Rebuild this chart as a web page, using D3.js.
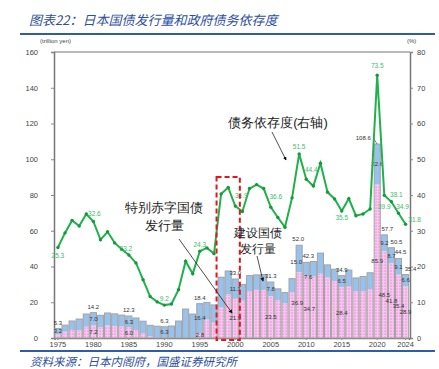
<!DOCTYPE html>
<html>
<head>
<meta charset="utf-8">
<script src="https://cdn.jsdelivr.net/npm/d3@7"></script>
<style>
body{margin:0;background:#fff;}
svg text{font-family:"Liberation Sans",Arial,sans-serif;}
.cn{font-family:"Noto Sans CJK SC",sans-serif;}
</style>
</head>
<body>
<div id="chart"></div>
<script>
var W = 439, H = 369
var margin = {top:52, right:29, bottom:31, left:54}

// data, trillion yen / %
var years = d3.range(1975, 2025)
var construction = [3.2,3.7,5.0,6.3,7.1,7.0,6.8,7.0,6.8,6.4,
                    6.3,6.7,6.9,6.2,6.4,6.3,6.7,9.5,16.2,13.4,
                    16.4,9.4,10.0,17.0,13.2,11.1,9.1,8.7,8.4,8.7,
                    7.8,6.4,6.0,7.5,15.0,7.6,8.4,11.5,7.1,6.6,
                    6.5,8.9,7.4,8.2,9.1,22.6,9.2,8.7,9.1,6.6]
var deficit = [2.1,3.5,4.5,4.3,6.3,7.2,5.9,7.0,6.7,6.4,
               6.0,4.5,2.5,0.9,0.2,0,0,0,0,0,
               2.8,10.5,8.5,17.0,24.3,21.9,20.9,26.2,26.9,26.8,
               23.5,21.1,19.4,25.7,36.9,34.7,34.4,36.0,33.8,31.9,
               28.4,29.1,26.2,26.2,27.4,85.9,48.5,41.8,35.4,28.9]
var dependency = [25.3,29.4,32.9,31.3,34.7,32.6,27.5,29.7,26.6,24.8,
                  23.2,21.0,16.3,11.6,10.1,9.2,9.5,13.5,21.5,18.0,
                  24.3,25.2,23.6,40.3,42.1,36.9,35.4,41.8,42.9,41.8,
                  36.6,33.7,31.0,39.2,51.5,44.4,42.5,48.9,40.8,38.9,
                  35.5,39.0,34.2,34.7,36.1,73.5,39.9,38.1,34.9,31.8]
var yearTicks = [1975,1980,1985,1990,1995,2000,2005,2010,2015,2020,2024]
var leftTicks = [0,20,40,60,80,100,120,140,160]
var rightTicks = [0,10,20,30,40,50,60,70,80]
var barLabelYears = [1975,1980,1985,1990,1995,2000,2005,2009,2010,2015,2020,2021,2022,2023,2024]
var totalLabels = [5.3,14.2,12.3,6.3,18.4,33.0,31.3,52.0,42.3,34.9,108.6,57.7,50.5,44.5,35.4]
var lineLabelYears = [1975,1980,1985,1990,1995,2000,2005,2009,2010,2015,2020,2021,2022,2023,2024]

var rows = years.map(function(y, i){
    return {year:y, c:construction[i], d:deficit[i], t:construction[i] + deficit[i], r:dependency[i]}
})
var byYear = {}
rows.forEach(function(r){ byYear[r.year] = r })

var svg = d3.select("#chart").append("svg")
    .attr("width", W).attr("height", H)

// pink dotted pattern
var defs = svg.append("defs")
var pat = defs.append("pattern").attr("id", "dots")
    .attr("patternUnits", "userSpaceOnUse").attr("width", 3).attr("height", 3)
pat.append("rect").attr("width", 3).attr("height", 3).attr("fill", "#f8c6ef")
pat.append("circle").attr("cx", 1).attr("cy", 1).attr("r", 0.6).attr("fill", "#e255c8")
defs.append("marker").attr("id", "arr")
    .attr("viewBox", "0 0 6 6").attr("refX", 5).attr("refY", 3)
    .attr("markerWidth", 5).attr("markerHeight", 5).attr("orient", "auto")
    .append("path").attr("d", "M0,0L6,3L0,6z").attr("fill", "#111")

// title + rules
svg.append("text").attr("class", "cn")
    .attr("x", 29).attr("y", 25)
    .style("font-size", "13px").style("font-style", "italic")
    .attr("fill", "#2d4f9e")
    .text("图表22：日本国债发行量和政府债务依存度")
svg.append("line").attr("x1", 20).attr("x2", 435).attr("y1", 34).attr("y2", 34)
    .attr("stroke", "#2e5ca8").attr("stroke-width", 2)
svg.append("line").attr("x1", 20).attr("x2", 435).attr("y1", 351).attr("y2", 351)
    .attr("stroke", "#2e5ca8").attr("stroke-width", 2)
svg.append("text").attr("class", "cn")
    .attr("x", 30).attr("y", 366)
    .style("font-size", "11.5px").style("font-style", "italic")
    .attr("fill", "#2d4f9e")
    .text("资料来源：日本内阁府，国盛证券研究所")

// scales
var x = d3.scaleBand().domain(years)
    .range([margin.left + 0.5, W - margin.right - 1]).paddingInner(0.14).paddingOuter(0.05)
var yL = d3.scaleLinear().domain([0,160]).range([H - margin.bottom, margin.top])
var yR = d3.scaleLinear().domain([0,80]).range([H - margin.bottom, margin.top])
var cx = function(yr){ return x(yr) + x.bandwidth()/2 }

// axes
var left = svg.append("g").attr("transform", "translate(" + margin.left + ",0)")
    .call(d3.axisLeft(yL).tickValues(leftTicks).tickSize(3).tickPadding(13))
var right = svg.append("g").attr("transform", "translate(" + (W - margin.right) + ",0)")
    .call(d3.axisRight(yR).tickValues(rightTicks).tickSize(3).tickPadding(4))
var bottom = svg.append("g").attr("transform", "translate(0," + (H - margin.bottom) + ")")
    .call(d3.axisBottom(x).tickValues(yearTicks).tickSize(2).tickPadding(2))
;[left, right, bottom].forEach(function(g){
    g.selectAll("text").style("font-size", "7.5px").attr("fill", "#444")
    g.selectAll("line").attr("stroke", "#888")
    g.select(".domain").attr("stroke", "#777").attr("stroke-width", 1.5)
})
// top frame line
svg.append("line").attr("x1", margin.left).attr("x2", W - margin.right)
    .attr("y1", margin.top).attr("y2", margin.top).attr("stroke", "#777").attr("stroke-width", 1)

svg.append("text").attr("x", 40).attr("y", 43).style("font-size", "6px").attr("fill", "#444")
    .text("(trillion yen)")
svg.append("text").attr("x", 407).attr("y", 43).style("font-size", "6px").attr("fill", "#444")
    .text("(%)")

// bars: pink special deficit bonds, blue construction bonds on top
var bars = svg.append("g")
bars.selectAll(".pink").data(rows).enter().append("rect")
    .attr("class", "pink")
    .attr("x", function(d){ return x(d.year) })
    .attr("width", x.bandwidth())
    .attr("y", function(d){ return yL(d.d) })
    .attr("height", function(d){ return yL(0) - yL(d.d) })
    .attr("fill", "url(#dots)")
bars.selectAll(".blue").data(rows).enter().append("rect")
    .attr("class", "blue")
    .attr("x", function(d){ return x(d.year) })
    .attr("width", x.bandwidth())
    .attr("y", function(d){ return yL(d.t) })
    .attr("height", function(d){ return yL(d.d) - yL(d.t) })
    .attr("fill", "#97c2ee")
bars.selectAll(".outline").data(rows).enter().append("rect")
    .attr("x", function(d){ return x(d.year) })
    .attr("width", x.bandwidth())
    .attr("y", function(d){ return yL(d.t) })
    .attr("height", function(d){ return yL(0) - yL(d.t) })
    .attr("fill", "none").attr("stroke", "#a3a3a3").attr("stroke-width", 1)

// bar value labels
var f1 = d3.format(".1f")
var totalShift = {2020:-14, 2021:3, 2022:5, 2023:2, 2024:5, 2010:2, 2009:-1}
var innerShift = {2009:[-3,3,-2,-2], 2010:[2,8,3,2]}   // [dx blue, dy blue, dx pink, dy pink]
var lab = svg.append("g").style("font-size", "6px").attr("fill", "#333").attr("text-anchor", "middle")
barLabelYears.forEach(function(yr, i){
    var r = byYear[yr]
    var dx = totalShift[yr] || 0
    var s = innerShift[yr] || [0,0,0,0]
    lab.append("text").attr("x", cx(yr) + dx).attr("y", yL(r.t) - 4).text(f1(totalLabels[i]))
    if(yr === 2020)
        lab.append("line").attr("x1", cx(yr) - 4).attr("x2", cx(yr))
            .attr("y1", yL(r.t) - 6).attr("y2", yL(r.t)).attr("stroke", "#333").attr("stroke-width", 0.6)
    lab.append("text").attr("x", cx(yr) + s[0]).attr("y", (yL(r.t) + yL(r.d))/2 + 2 + s[1]).text(f1(r.c))
    if(r.d >= 2.5)
        lab.append("text").attr("x", cx(yr) + s[2]).attr("y", (yL(r.d) + yL(0))/2 + 2 + s[3]).text(f1(r.d))
})

// dependency line
var line = d3.line().x(function(d){ return cx(d.year) }).y(function(d){ return yR(d.r) })
svg.append("path").datum(rows).attr("d", line)
    .attr("fill", "none").attr("stroke", "#1fb24b").attr("stroke-width", 2)
svg.selectAll(".pt").data(rows).enter().append("circle")
    .attr("cx", function(d){ return cx(d.year) }).attr("cy", function(d){ return yR(d.r) })
    .attr("r", 1.7).attr("fill", "#17983c")

var lineOff = {1975:[0,8],1980:[1,-8],1985:[-3,-6],1990:[0,-6],1995:[0,-6],2000:[6,-10],2005:[5,-10],
               2009:[0,-7],2010:[5,-10],2015:[0,7],2020:[0,-10],2021:[0,11],2022:[5,-7],2023:[4,-7],2024:[9,-5]}
var gl = svg.append("g").style("font-size", "6.5px").attr("fill", "#3dbb6c").attr("text-anchor", "middle")
lineLabelYears.forEach(function(yr){
    var r = byYear[yr], o = lineOff[yr]
    gl.append("text").attr("x", cx(yr) + o[0]).attr("y", yR(r.r) + o[1]).attr("dy", "0.35em").text(f1(r.r))
})

// red dashed box around 1998-2000
svg.append("rect")
    .attr("x", x(1998) - 1.5).attr("y", 177)
    .attr("width", x(2000) + x.bandwidth() - x(1998) + 3).attr("height", 340 - 177)
    .attr("fill", "none").attr("stroke", "#e8141c").attr("stroke-width", 2).attr("stroke-dasharray", "5,3")

// annotations
var ann = svg.append("g").attr("class", "cn").attr("fill", "#222").attr("text-anchor", "middle")
ann.append("text").attr("x", 278).attr("y", 127).style("font-size", "13px").text("债务依存度(右轴)")
ann.append("text").attr("x", 164).attr("y", 212).style("font-size", "13px").text("特别赤字国债")
ann.append("text").attr("x", 164).attr("y", 230).style("font-size", "13px").text("发行量")
ann.append("text").attr("x", 258).attr("y", 237).style("font-size", "11.5px").text("建设国债")
ann.append("text").attr("x", 258).attr("y", 253).style("font-size", "11.5px").text("发行量")
var arrows = [[272,132,286,160],[179,239,232,313],[257,256,263,281]]
arrows.forEach(function(a){
    svg.append("line").attr("x1", a[0]).attr("y1", a[1]).attr("x2", a[2]).attr("y2", a[3])
        .attr("stroke", "#222").attr("stroke-width", 0.8).attr("marker-end", "url(#arr)")
})
</script>
</body>
</html>
